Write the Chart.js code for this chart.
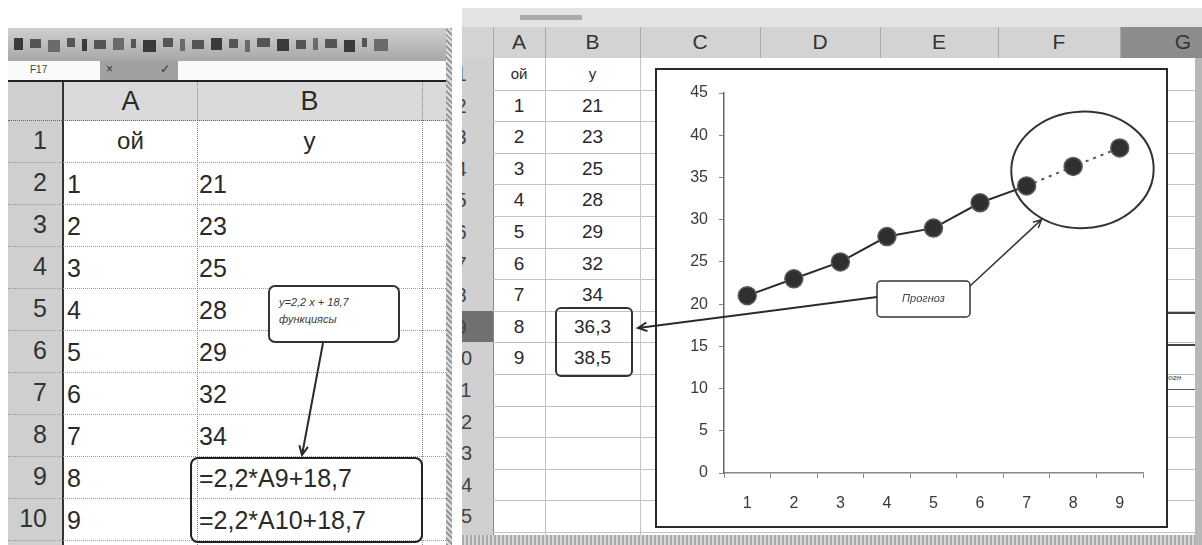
<!DOCTYPE html>
<html>
<head>
<meta charset="utf-8">
<script src="https://cdn.jsdelivr.net/npm/chart.js@4.4.1/dist/chart.umd.min.js"></script>
<style>
html, body { margin: 0; padding: 0; background: #fff; }
body { width: 1202px; height: 545px; position: relative; overflow: hidden;
       font-family: Arial, "Liberation Sans", sans-serif; color: #2a2a2a; }
.a { position: absolute; box-sizing: border-box; }
#chartBox { left: 655px; top: 68px; width: 513px; height: 460px; border: 2px solid #2a2a2a; background: #fff; }
#notes { left: 0; top: 0; pointer-events: none; }
</style>
</head>
<body>
<div id="chartBox" class="a"><canvas id="trend" width="509" height="456"></canvas></div>
<svg id="notes" class="a" width="1202" height="545"></svg>
<script>
// observed x (ой) and y, then the two forecast values
const xValues = [1, 2, 3, 4, 5, 6, 7, 8, 9];
const yKnown = [21, 23, 25, 28, 29, 32, 34];
const yForecast = [36.3, 38.5];
const yValues = yKnown.concat(yForecast);
const formulas = ['=2,2*A9+18,7', '=2,2*A10+18,7'];
const trendNote = ['y=2,2 x + 18,7', 'функциясы'];
const forecastNote = 'Прогноз';
const yMin = 0, yMax = 45, yStep = 5;

function box(css, text) {
  const d = document.createElement('div');
  d.className = 'a';
  Object.assign(d.style, css);
  if (text !== undefined) d.textContent = text;
  document.body.insertBefore(d, document.getElementById('chartBox'));
  return d;
}
const px = v => v + 'px';
const comma = v => String(v).replace('.', ',');

// ---- left sheet ----
box({ left: '8px', top: '28px', width: '444px', height: '33px',
      background: 'linear-gradient(#cfcfcf,#a8a8a8)' });
const icons = [9, 11, 12, 8, 5, 12, 11, 5, 13, 10, 5, 12, 11, 9, 5, 13, 12, 10, 5, 12, 11, 5, 14];
let ix = 14;
icons.forEach((w, i) => {
  box({ left: px(ix), top: px(38 + (i % 3)), width: px(w), height: px(12 - (i % 2) * 3),
        background: i % 4 === 0 ? '#3a3a3a' : (i % 4 === 2 ? '#6a6a6a' : '#555') });
  ix += w + 7;
});
box({ left: '8px', top: '61px', width: '444px', height: '19px', background: '#fafafa' });
box({ left: '30px', top: '64px', fontSize: '10px', color: '#444' }, 'F17');
box({ left: '100px', top: '61px', width: '78px', height: '19px', background: '#a0a0a0' });
box({ left: '106px', top: '62px', fontSize: '12px', color: '#333' }, '×');
box({ left: '160px', top: '62px', fontSize: '12px', color: '#333' }, '✓');
box({ left: '8px', top: '80px', width: '444px', height: '2px', background: '#222' });
box({ left: '8px', top: '82px', width: '444px', height: '39px', background: '#dadada' });
box({ left: '8px', top: '82px', width: '54px', height: '463px', background: '#cfcfcf' });
box({ left: '62px', top: '82px', width: '2px', height: '463px', background: '#333' });
box({ left: '64px', top: '86px', width: '133px', textAlign: 'center', fontSize: '27px' }, 'A');
box({ left: '197px', top: '86px', width: '225px', textAlign: 'center', fontSize: '27px' }, 'B');
[197, 422].forEach(x => box({ left: px(x), top: '82px', width: '1px', height: '463px',
                              borderLeft: '1px dotted #888' }));
box({ left: '446px', top: '28px', width: '6px', height: '517px',
      background: 'repeating-linear-gradient(45deg,#999 0 2px,#ddd 2px 4px)' });
box({ left: '8px', top: '120px', width: '438px', height: '1px', borderTop: '1px dotted #666' });
for (let r = 1; r <= 10; r++) {
  const top = 121 + 42 * (r - 1);
  box({ left: '8px', top: px(top + 5), width: '39px', textAlign: 'right', fontSize: '25px', color: '#333' }, r);
  box({ left: '8px', top: px(top + 41), width: '438px', height: '1px', borderTop: '1px dotted #999' });
  if (r === 1) {
    box({ left: '64px', top: px(top + 6), width: '133px', textAlign: 'center', fontSize: '24px' }, 'ой');
    box({ left: '197px', top: px(top + 6), width: '225px', textAlign: 'center', fontSize: '24px' }, 'y');
  } else {
    const k = r - 2;
    box({ left: '67px', top: px(top + 7), fontSize: '25px' }, xValues[k]);
    box({ left: '199px', top: px(top + 7), fontSize: '25px' }, k < yKnown.length ? yKnown[k] : formulas[k - yKnown.length]);
  }
}
box({ left: '268px', top: '285px', width: '132px', height: '58px', border: '2px solid #333',
      borderRadius: '7px', background: '#fff', fontSize: '11px', fontStyle: 'italic',
      padding: '7px 0 0 9px', lineHeight: '17px', color: '#3a3a3a' }, trendNote.join('\n'))
  .style.whiteSpace = 'pre';
box({ left: '190px', top: '457px', width: '233px', height: '86px', border: '2px solid #222', borderRadius: '8px' });

// ---- right sheet ----
box({ left: '462px', top: '8px', width: '740px', height: '19px', background: '#e3e3e3' });
box({ left: '520px', top: '15px', width: '62px', height: '5px', background: '#aaa' });
box({ left: '462px', top: '27px', width: '740px', height: '31px', background: '#d3d3d3' });
box({ left: '1120px', top: '27px', width: '82px', height: '31px', background: '#8c8c8c' });
const colLetters = ['A', 'B', 'C', 'D', 'E', 'F', 'G'];
const colEdges = [493, 545, 640, 760, 880, 998, 1120, 1246];
colLetters.forEach((c, i) => {
  box({ left: px(colEdges[i]), top: '30px', width: px(colEdges[i + 1] - colEdges[i]),
        textAlign: 'center', fontSize: '21px', color: '#333' }, c);
  box({ left: px(colEdges[i]), top: '27px', width: '1px', height: '31px', background: '#aaa' });
});
box({ left: '462px', top: '58px', width: '31px', height: '478px', background: '#d0d0d0', overflow: 'hidden' });
box({ left: '493px', top: '58px', width: '1px', height: '478px', background: '#888' });
[545, 640].forEach(x => box({ left: px(x), top: '58px', width: '1px', height: '478px', background: '#c4c4c4' }));
const rowH = 31.6;
for (let i = 0; i < 15; i++) {
  const top = 58 + rowH * i;
  const head = box({ left: '462px', top: px(top), width: '31px', height: px(rowH), overflow: 'hidden',
                     background: i === 8 ? '#707070' : 'transparent' });
  const num = document.createElement('div');
  Object.assign(num.style, { position: 'absolute', left: '-32px', width: '62px', top: '5px',
                             textAlign: 'center', fontSize: '20px', color: '#444' });
  num.textContent = i + 1;
  head.appendChild(num);
  box({ left: '493px', top: px(top + rowH), width: '702px', height: '1px', background: '#c2c2c2' });
  if (i === 0) {
    box({ left: '493px', top: px(top + 7), width: '52px', textAlign: 'center', fontSize: '15px' }, 'ой');
    box({ left: '545px', top: px(top + 7), width: '95px', textAlign: 'center', fontSize: '15px' }, 'y');
  } else if (i <= 9) {
    box({ left: '493px', top: px(top + 5), width: '52px', textAlign: 'center', fontSize: '19px' }, xValues[i - 1]);
    box({ left: '545px', top: px(top + 5), width: '95px', textAlign: 'center', fontSize: '19px' }, comma(yValues[i - 1]));
  }
}
box({ left: '462px', top: '535px', width: '740px', height: '10px',
      background: 'repeating-linear-gradient(90deg,#aaa 0 2px,#d8d8d8 2px 4px)' });
box({ left: '1195px', top: '58px', width: '7px', height: '487px', background: '#b8b8b8' });
box({ left: '1168px', top: '312px', width: '27px', height: '2px', background: '#444' });
box({ left: '1168px', top: '344px', width: '27px', height: '2px', background: '#444' });
box({ left: '1158px', top: '373px', fontSize: '8px', fontStyle: 'italic', color: '#444' }, 'Прогн');
box({ left: '1155px', top: '389px', width: '40px', height: '1px', background: '#555' });
box({ left: '555px', top: '307px', width: '78px', height: '70px', border: '2px solid #333', borderRadius: '6px' });

// ---- arrows over both sheets ----
const svg = document.getElementById('notes');
function arrow(x1, y1, x2, y2, w) {
  const ns = 'http://www.w3.org/2000/svg';
  const a = Math.atan2(y2 - y1, x2 - x1), L = 10, s = 0.45;
  const d = `M${x1},${y1}L${x2},${y2}` +
    `M${x2 - L * Math.cos(a - s)},${y2 - L * Math.sin(a - s)}L${x2},${y2}` +
    `L${x2 - L * Math.cos(a + s)},${y2 - L * Math.sin(a + s)}`;
  const p = document.createElementNS(ns, 'path');
  p.setAttribute('d', d);
  p.setAttribute('fill', 'none');
  p.setAttribute('stroke', '#2a2a2a');
  p.setAttribute('stroke-width', w);
  svg.appendChild(p);
}
arrow(323, 343, 302, 455, 2);
arrow(877, 297, 638, 328, 2);

// ---- chart ----
const forecastMarks = {
  id: 'forecastMarks',
  afterDatasetsDraw(chart) {
    const { ctx, scales: { x, y } } = chart;
    const cx = x.getPixelForValue(yKnown.length + 0.2);
    const cy = y.getPixelForValue(35.9);
    const step = x.getPixelForValue(1) - x.getPixelForValue(0);
    ctx.save();
    ctx.strokeStyle = '#333';
    ctx.lineWidth = 2;
    ctx.beginPath();
    ctx.ellipse(cx, cy, step * 1.53, (y.getPixelForValue(0) - y.getPixelForValue(6.9)), -0.05, 0, Math.PI * 2);
    ctx.stroke();
    // callout box
    const bx = 220, by = 211, bw = 93, bh = 36;
    ctx.fillStyle = '#fff';
    ctx.lineWidth = 1.5;
    ctx.beginPath();
    ctx.roundRect(bx, by, bw, bh, 4);
    ctx.fill();
    ctx.stroke();
    ctx.fillStyle = '#444';
    ctx.font = 'italic 11px Arial';
    ctx.textAlign = 'center';
    ctx.textBaseline = 'middle';
    ctx.fillText(forecastNote, bx + bw / 2, by + bh / 2);
    // pointer to the ellipse
    const ex = cx - step * 0.88, ey = cy + (y.getPixelForValue(0) - y.getPixelForValue(5.9));
    const a = Math.atan2(ey - (by + 5), ex - (bx + bw));
    ctx.lineWidth = 1.5;
    ctx.beginPath();
    ctx.moveTo(bx + bw, by + 5);
    ctx.lineTo(ex, ey);
    ctx.moveTo(ex - 9 * Math.cos(a - 0.45), ey - 9 * Math.sin(a - 0.45));
    ctx.lineTo(ex, ey);
    ctx.lineTo(ex - 9 * Math.cos(a + 0.45), ey - 9 * Math.sin(a + 0.45));
    ctx.stroke();
    ctx.restore();
  }
};

new Chart(document.getElementById('trend'), {
  type: 'line',
  data: {
    labels: xValues.map(String),
    datasets: [{
      data: yValues,
      borderColor: '#2b2b2b',
      borderWidth: 2,
      pointRadius: 9,
      pointBackgroundColor: '#2f2f2f',
      pointBorderColor: '#5a5a5a',
      pointBorderWidth: 1.5,
      segment: {
        borderDash: c => c.p0DataIndex >= yKnown.length - 1 ? [3, 5] : undefined,
        borderColor: c => c.p0DataIndex >= yKnown.length - 1 ? '#555' : undefined
      }
    }]
  },
  options: {
    responsive: false,
    animation: false,
    devicePixelRatio: 1,
    layout: { padding: { top: 23, right: 23, left: 0, bottom: 0 } },
    plugins: { legend: { display: false }, tooltip: { enabled: false } },
    scales: {
      x: {
        offset: true,
        grid: { display: true, drawOnChartArea: false, offset: true, tickLength: 5, color: '#888' },
        border: { color: '#888', width: 1.5 },
        ticks: { padding: 16, color: '#3a3a3a', font: { family: 'Arial', size: 16 } },
        afterFit: s => { s.height = 53; }
      },
      y: {
        min: yMin,
        max: yMax,
        grid: { display: true, drawOnChartArea: false, tickLength: 5, color: '#888' },
        border: { color: '#666', width: 1.5, dash: [2, 1] },
        ticks: { stepSize: yStep, padding: 11, color: '#3a3a3a', font: { family: 'Arial', size: 16 } },
        afterFit: s => { s.width = 67; }
      }
    }
  },
  plugins: [forecastMarks]
});
</script>
</body>
</html>
